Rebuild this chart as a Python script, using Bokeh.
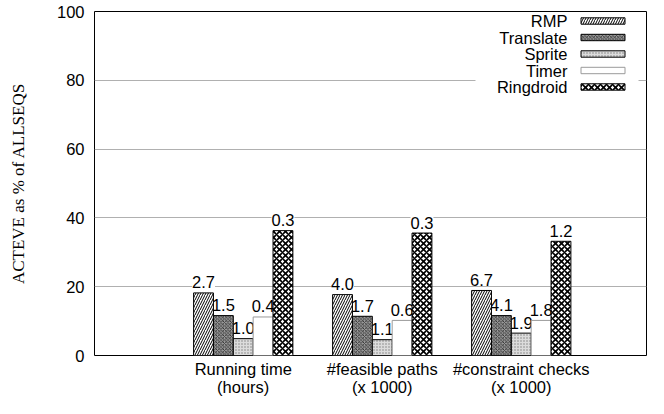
from bokeh.plotting import figure
from bokeh.models import FixedTicker, BoxAnnotation, Label, Range1d
from bokeh.core.properties import value
from bokeh.embed import file_html
from bokeh.resources import INLINE

# ---- data ----
categories = ["Running time\n(hours)", "#feasible paths\n(x 1000)", "#constraint checks\n(x 1000)"]
series = ["RMP", "Translate", "Sprite", "Timer", "Ringdroid"]
rmp = [18.2, 17.7, 18.9]
translate = [11.6, 11.4, 11.6]
sprite = [4.9, 4.6, 6.5]
timer = [11.2, 10.2, 10.2]
ringdroid = [36.3, 35.6, 33.2]
rmp_labels = ["2.7", "4.0", "6.7"]
translate_labels = ["1.5", "1.7", "4.1"]
sprite_labels = ["1.0", "1.1", "1.9"]
timer_labels = ["0.4", "0.6", "1.8"]
ringdroid_labels = ["0.3", "0.3", "1.2"]
y_ticks = [0, 20, 40, 60, 80, 100]

values = [rmp, translate, sprite, timer, ringdroid]
labels = [rmp_labels, translate_labels, sprite_labels, timer_labels, ringdroid_labels]

styles = [
    dict(fill_color="white", hatch_pattern="/", hatch_color="black", hatch_scale=5, hatch_weight=1, line_color="black"),
    dict(fill_color="#9a9a9a", hatch_pattern="x", hatch_color="#222222", hatch_scale=3.5, hatch_weight=0.8, line_color="black"),
    dict(fill_color="#dcdcdc", hatch_pattern=".", hatch_color="#808080", hatch_scale=3, hatch_weight=1, line_color="black"),
    dict(fill_color="white", hatch_pattern=" ", hatch_color="white", hatch_scale=3, hatch_weight=1, line_color="#9a9a9a"),
    dict(fill_color="white", hatch_pattern="x", hatch_color="black", hatch_scale=6, hatch_weight=1.6, line_color="black"),
]

FONT_NAME = "Liberation Sans"
FONT = value(FONT_NAME)
FS = "16.5px"
n_series = len(series)
gap = 2
bw = 1.0 / (n_series + gap)

# frame geometry in canvas px
W, H = 648, 398
FL, FR, FT, FB = 94, 646, 11, 355

x_start, x_end = -1.070, 2.901
p = figure(width=W, height=H, x_range=Range1d(x_start, x_end), y_range=Range1d(0, 100),
           output_backend="svg", toolbar_location=None,
           min_border_left=FL, min_border_right=W - FR,
           min_border_top=FT, min_border_bottom=H - FB)
p.background_fill_color = "white"
p.border_fill_color = "white"
p.outline_line_color = "black"
p.outline_line_width = 1
p.outline_line_alpha = 1

def dx(px):
    return x_start + (px - FL) / (FR - FL) * (x_end - x_start)
def dy(py):
    return (FB - py) / (FB - FT) * 100

groups = list(range(len(categories)))

# value labels (under the bars)
for j in range(n_series):
    xs = [g + (j - (n_series - 1) / 2) * bw for g in groups]
    p.text(x=xs, y=values[j], text=labels[j], text_align="center", text_baseline="alphabetic",
           y_offset=-10.5, text_font=FONT, text_font_size=FS, text_color="black",
           background_fill_color="white")

# bars
for j in range(n_series):
    xs = [g + (j - (n_series - 1) / 2) * bw for g in groups]
    st = styles[j]
    p.vbar(x=xs, top=values[j], bottom=0, width=bw, fill_color=st["fill_color"],
           hatch_pattern=st["hatch_pattern"], hatch_color=st["hatch_color"],
           hatch_scale=st["hatch_scale"], hatch_weight=st["hatch_weight"],
           line_color=st["line_color"], line_width=1)

# legend (text left, sample right)
p.add_layout(BoxAnnotation(left=dx(475), right=dx(638), bottom=dy(95), top=dy(FT + 1),
                           fill_color="white", fill_alpha=1, line_color=None))
rows = [20.5, 37, 53.5, 70, 86.5]
for j, name in enumerate(series):
    st = styles[j]
    p.add_layout(Label(x=dx(567), y=dy(rows[j]), text=name, text_align="right", text_baseline="middle",
                       text_font=FONT_NAME, text_font_size=FS, text_color="black"))
    p.add_layout(BoxAnnotation(left=dx(580.5), right=dx(624.5), bottom=dy(rows[j] + 3.2), top=dy(rows[j] - 3.2),
                               fill_color=st["fill_color"], fill_alpha=1,
                               hatch_pattern=st["hatch_pattern"], hatch_color=st["hatch_color"],
                               hatch_scale=st["hatch_scale"], hatch_weight=st["hatch_weight"],
                               line_color=st["line_color"], line_width=1, line_alpha=1))

# axes
p.xaxis.ticker = FixedTicker(ticks=groups)
p.xaxis.major_label_overrides = {g: categories[g] for g in groups}
p.xaxis.major_label_text_font = FONT_NAME
p.xaxis.major_label_text_font_size = FS
p.xaxis.major_label_text_color = "black"
p.xaxis.major_label_text_line_height = 1.0
p.xaxis.major_label_standoff = 4
p.xaxis.major_tick_out = 0
p.xaxis.major_tick_in = 0
p.xaxis.minor_tick_out = 0
p.xaxis.minor_tick_in = 0
p.xaxis.major_tick_line_color = None
p.xaxis.minor_tick_line_color = None
p.xaxis.axis_line_color = None

p.yaxis.ticker = FixedTicker(ticks=y_ticks)
p.yaxis.major_label_text_font = FONT_NAME
p.yaxis.major_label_text_font_size = FS
p.yaxis.major_label_text_color = "black"
p.yaxis.major_label_standoff = 10
p.yaxis.major_tick_out = 0
p.yaxis.major_tick_in = 0
p.yaxis.minor_tick_out = 0
p.yaxis.minor_tick_in = 0
p.yaxis.major_tick_line_color = None
p.yaxis.minor_tick_line_color = None
p.yaxis.axis_line_color = None
p.yaxis.axis_label = "ACTEVE as % of ALLSEQS"
p.yaxis.axis_label_text_font = "Liberation Serif"
p.yaxis.axis_label_text_font_style = "normal"
p.yaxis.axis_label_text_font_size = "17px"
p.yaxis.axis_label_text_color = "black"
p.yaxis.axis_label_standoff = 26

p.xgrid.visible = False
p.ygrid.ticker = FixedTicker(ticks=y_ticks)
p.ygrid.grid_line_color = "#b0b0b0"
p.ygrid.grid_line_width = 1

open("out.html", "w").write(file_html(p, INLINE))
